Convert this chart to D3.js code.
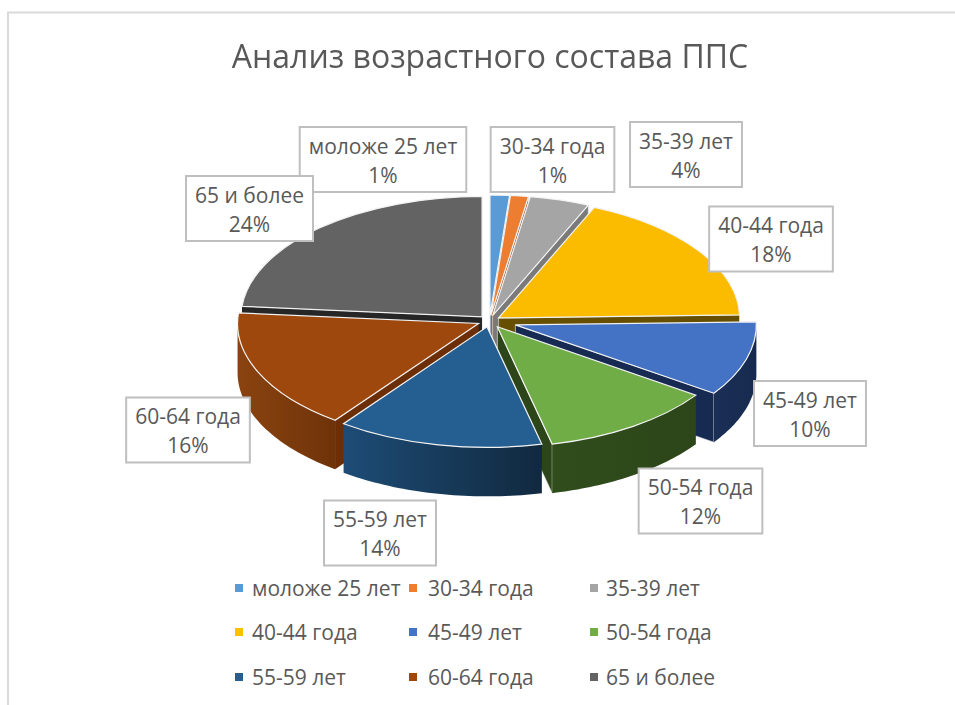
<!DOCTYPE html>
<html><head><meta charset="utf-8">
<script src="https://cdn.jsdelivr.net/npm/d3@7"></script>
<style>html,body{margin:0;padding:0;background:#fff}svg{display:block}text{font-family:"Open Sans",sans-serif;fill:#595959}</style>
</head><body><svg id="c" width="955" height="705"></svg>
<script>
const titleText = "Анализ возрастного состава ППС";
const categories = ["моложе 25 лет","30-34 года","35-39 лет","40-44 года","45-49 лет","50-54 года","55-59 лет","60-64 года","65 и более"];
const values = [1.3,1.2,4.0,18.1,10.0,11.75,13.8,16.25,23.6];
const legendColors = ["#5b9bd5","#ed7d31","#a5a5a5","#ffc000","#4472c4","#70ad47","#255e91","#9e480e","#636363"];
const topColors = ["#5b9bd5","#ed7d31","#a5a5a5","#fbbc00","#4472c4","#70ad47","#255e91","#9e480e","#636363"];
const wallLeft  = ["#2d5f8d","#8a4516","#636363","#665000","#1b2f57","#304d1c","#1d4c76","#8a4310","#262626"];
const wallRight = ["#2d5f8d","#8a4516","#636363","#665000","#172a4e","#2c4519","#11293f","#6f3309","#262626"];
const faceColors= ["#2d5f8d","#8a4516","#7a7a7a","#665000","#172a52","#2c4519","#1a4368","#6b2e06","#262626"];
const explosion = [11,11,11,11,27,14,12,12,11];
const labelCenters = [[383,159.5],[552.5,159.5],[686,154.5],[771,239],[810,413.5],[700.5,501],[380,533],[188,430],[249.5,208.5]];
const labelText = values.map((v,i)=>Math.round(v)+"%");
const legendCols = [239,413,594], legendRows = [588,632,677];
const legendGap = [13,15,12];

const W=955,H=705,cx=489.5,cy=321,Rx=241,Ry=120.5,depth=49;
const svg=d3.select("#c");
const defs=svg.append("defs");
const blur=defs.append("filter").attr("id","soft").attr("x","-2%").attr("y","-20%").attr("width","104%").attr("height","140%");
blur.append("feGaussianBlur").attr("stdDeviation",0.4);

svg.append("path").attr("d",d3.line()([[8,705],[8,12.5],[955,12.5]])).attr("fill","none").attr("stroke","#d9d9d9").attr("stroke-width",2);

svg.append("text").attr("x",490).attr("y",68).attr("text-anchor","middle").attr("font-size",32).text(titleText).attr("filter","url(#soft)");

const pie=d3.pie().sort(null).value(d=>d)(values);
const K=Ry/Rx;
const arc=d3.arc().innerRadius(0).outerRadius(Rx);
const line=d3.line();
pie.forEach((p,i)=>{
  const mid=(p.startAngle+p.endAngle)/2;
  p.i=i; p.ox=cx+explosion[i]*Math.sin(mid); p.oy=cy-explosion[i]*K*Math.cos(mid);
  const g=defs.append("linearGradient").attr("id","wall"+i);
  g.append("stop").attr("offset",0).attr("stop-color",wallLeft[i]);
  g.append("stop").attr("offset",1).attr("stop-color",wallRight[i]);
});
const pt=(p,a,z=0)=>[p.ox+Rx*Math.sin(a),p.oy-Ry*Math.cos(a)+z];
const order=[8,0,1,2,3,7,4,5,6];
const stroke="#f2f2f2";
order.forEach(i=>{
  const p=pie[i], G=svg.append("g");
  const apex=[p.ox,p.oy], apexD=[p.ox,p.oy+depth];
  if(Math.sin(p.startAngle)<0)
    G.append("path").attr("d",line([apex,pt(p,p.startAngle),pt(p,p.startAngle,depth),apexD])+"Z").attr("fill",faceColors[i]);
  if(Math.sin(p.endAngle)>0)
    G.append("path").attr("d",line([apex,pt(p,p.endAngle),pt(p,p.endAngle,depth),apexD])+"Z").attr("fill",faceColors[i]).attr("stroke",stroke).attr("stroke-width",0.6);
  const a0=Math.max(p.startAngle,Math.PI/2), a1=Math.min(p.endAngle,3*Math.PI/2);
  if(a1>a0){
    const angs=d3.range(0,41).map(k=>a0+(a1-a0)*k/40);
    const poly=angs.map(a=>pt(p,a)).concat(angs.slice().reverse().map(a=>pt(p,a,depth)));
    G.append("path").attr("d",line(poly)+"Z").attr("fill",`url(#wall${i})`);
  }
  G.append("path").attr("transform",`translate(${p.ox},${p.oy}) scale(1,${K})`)
    .attr("d",arc({startAngle:p.startAngle,endAngle:p.endAngle}))
    .attr("fill",topColors[i]).attr("stroke",stroke).attr("stroke-width",1.2).attr("vector-effect","non-scaling-stroke");
});

const lab=svg.append("g");
categories.forEach((c,i)=>{
  const [x,y]=labelCenters[i], g=lab.append("g");
  const r=g.append("rect"), fs=21;
  const t1=g.append("text").attr("x",x).attr("y",y-6).attr("text-anchor","middle").attr("font-size",fs).text(c);
  const t2=g.append("text").attr("x",x).attr("y",y+23).attr("text-anchor","middle").attr("font-size",fs).text(labelText[i]);
  const w=Math.max(t1.node().getComputedTextLength(),t2.node().getComputedTextLength())+18;
  r.attr("x",x-w/2).attr("y",y-32.5).attr("width",w).attr("height",65).attr("fill","#fff").attr("stroke","#bfbfbf").attr("stroke-width",2);
});

categories.forEach((c,i)=>{
  const x=legendCols[i%3], y=legendRows[Math.floor(i/3)];
  svg.append("rect").attr("x",x-4).attr("y",y-4).attr("width",8).attr("height",8).attr("fill",legendColors[i]);
  svg.append("text").attr("x",x+legendGap[i%3]).attr("y",y+8).attr("font-size",21).text(c);
});
</script></body></html>
